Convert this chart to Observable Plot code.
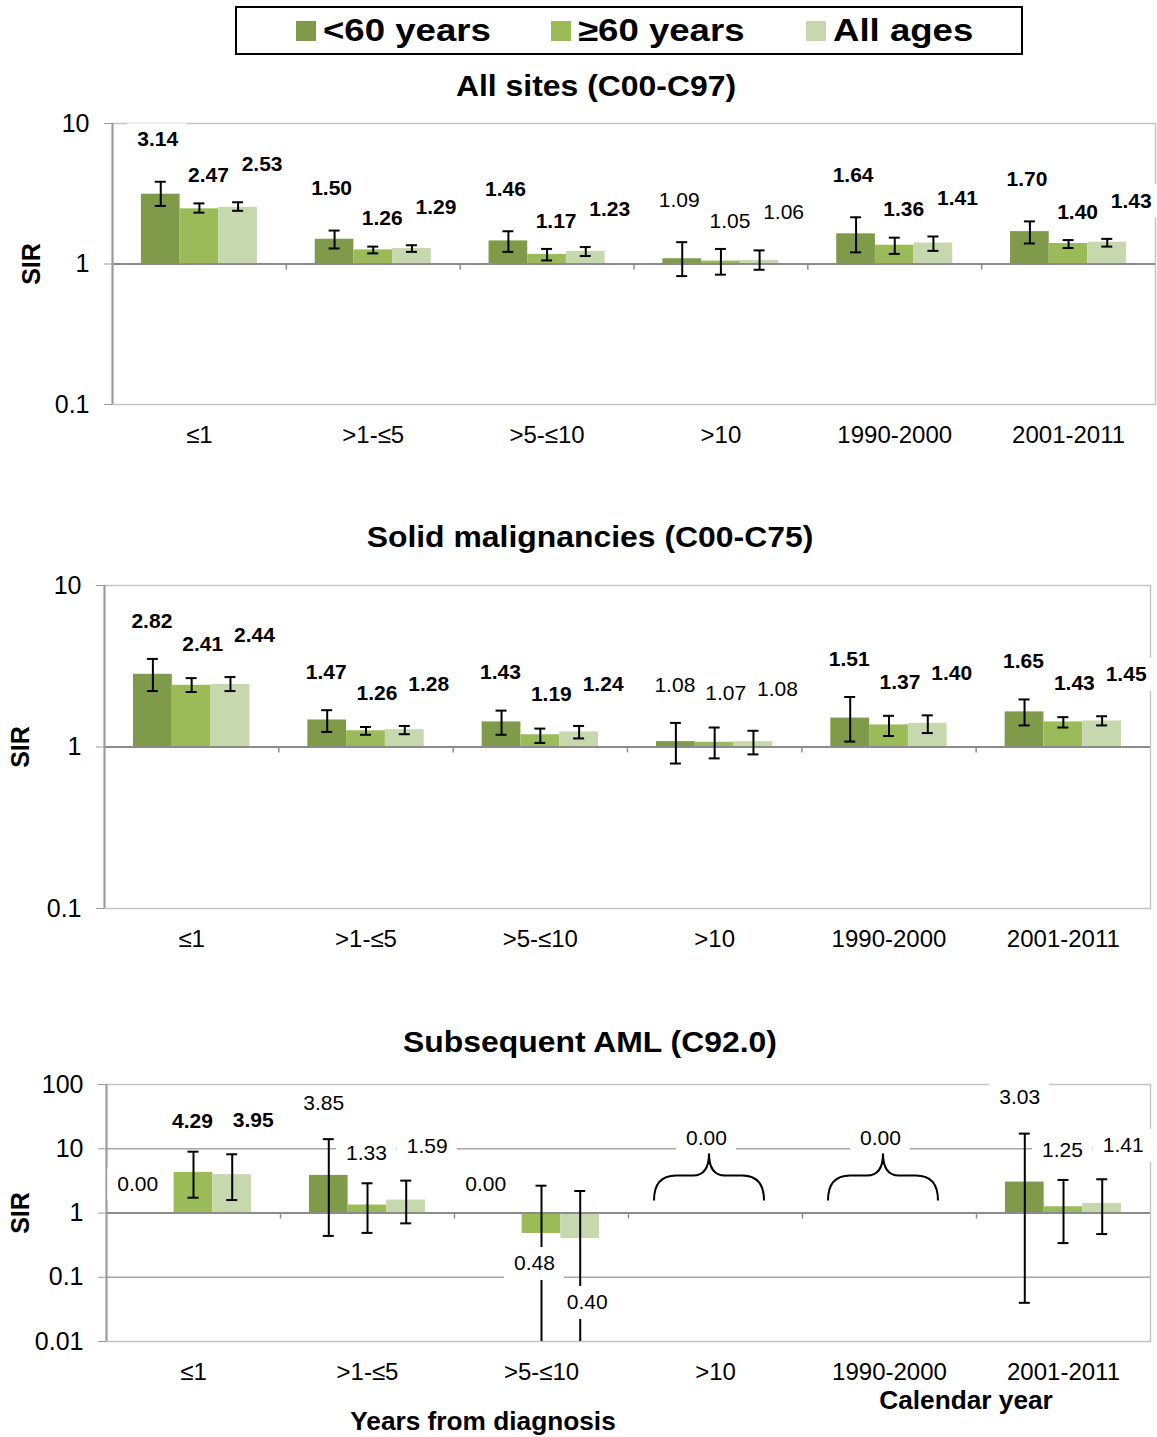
<!DOCTYPE html>
<html>
<head>
<meta charset="utf-8">
<script src="https://cdn.jsdelivr.net/npm/d3@7"></script>
<script src="https://cdn.jsdelivr.net/npm/@observablehq/plot@0.6"></script>
<style>
  html, body { margin: 0; padding: 0; background: #fff; }
  #root { position: relative; width: 1157px; height: 1437px; overflow: hidden; background: #fff;
          font-family: "Liberation Sans", Arial, sans-serif; color: #000; }
  .panel { position: absolute; left: 0; }
  .panel svg { display: block; overflow: visible; }
  .title { position: absolute; font-weight: bold; font-size: 29px; white-space: nowrap; line-height: 1;
           transform: translate(-50%, -50%) scaleX(1.1); z-index: 2; }
  .axt { position: absolute; font-weight: bold; font-size: 25px; white-space: nowrap; line-height: 1;
         transform: translate(-50%, -50%) scaleX(1.05); z-index: 2; }
  #legend { position: absolute; left: 235px; top: 6px; width: 788px; height: 49px; box-sizing: border-box;
            border: 2px solid #000; display: flex; align-items: center; padding-left: 59px; z-index: 2; background: #fff; }
  .item { width: 255px; display: flex; align-items: center; flex: none; }
  .sw { width: 20px; height: 20px; flex: none; margin-right: 7px; }
  .lt { font-weight: bold; font-size: 31px; transform: scaleX(1.18); transform-origin: left center;
        white-space: nowrap; line-height: 1; }
</style>
</head>
<body>
<div id="root">
  <div id="legend"></div>
  <div class="panel" id="p1" style="top:95px"></div>
  <div class="panel" id="p2" style="top:560px"></div>
  <div class="panel" id="p3" style="top:1059px"></div>
  <div class="title" style="left:596px;top:86px">All sites (C00-C97)</div>
  <div class="title" style="left:590px;top:537px">Solid malignancies (C00-C75)</div>
  <div class="title" style="left:590px;top:1042px">Subsequent AML (C92.0)</div>
  <div class="axt" style="left:966px;top:1400px">Calendar year</div>
  <div class="axt" style="left:483px;top:1421px">Years from diagnosis</div>
</div>
<script>
// ---------- categories ----------
const groups = ["≤1", ">1-≤5", ">5-≤10", ">10", "1990-2000", "2001-2011"];
const series = ["<60 years", "≥60 years", "All ages"];
const seriesColors = ["#7f9b49", "#9bbb59", "#c8d8ae"];
const yTicksSites = [0.1, 1, 10];
const yTicksAml = [0.01, 0.1, 1, 10, 100];

// ---------- All sites (C00-C97): SIR with 95% CI ----------
const allLt60   = [3.14, 1.50, 1.46, 1.09, 1.64, 1.70];
const allLt60Lo = [2.59, 1.29, 1.22, 0.82, 1.21, 1.40];
const allLt60Hi = [3.85, 1.73, 1.71, 1.43, 2.15, 2.01];
const allGe60   = [2.47, 1.26, 1.17, 1.05, 1.36, 1.40];
const allGe60Lo = [2.32, 1.19, 1.06, 0.84, 1.18, 1.30];
const allGe60Hi = [2.70, 1.33, 1.28, 1.28, 1.54, 1.48];
const allAll    = [2.53, 1.29, 1.23, 1.06, 1.41, 1.43];
const allAllLo  = [2.39, 1.22, 1.14, 0.91, 1.24, 1.33];
const allAllHi  = [2.75, 1.36, 1.32, 1.25, 1.57, 1.51];

// ---------- Solid malignancies (C00-C75) ----------
const solLt60   = [2.82, 1.47, 1.43, 1.08, 1.51, 1.65];
const solLt60Lo = [2.22, 1.24, 1.19, 0.79, 1.08, 1.36];
const solLt60Hi = [3.51, 1.69, 1.68, 1.41, 2.04, 1.97];
const solGe60   = [2.41, 1.26, 1.19, 1.07, 1.37, 1.43];
const solGe60Lo = [2.19, 1.19, 1.06, 0.85, 1.17, 1.32];
const solGe60Hi = [2.67, 1.33, 1.30, 1.32, 1.56, 1.53];
const solAll    = [2.44, 1.28, 1.24, 1.08, 1.40, 1.45];
const solAllLo  = [2.22, 1.20, 1.13, 0.90, 1.22, 1.36];
const solAllHi  = [2.71, 1.35, 1.35, 1.26, 1.57, 1.55];

// ---------- Subsequent AML (C92.0) ----------
const amlLt60   = [0.00, 3.85, 0.00, 0.00, 0.00, 3.03];
const amlLt60Lo = [null, 0.44, null, null, null, 0.040];
const amlLt60Hi = [null, 14.1, null, null, null, 17.2];
const amlGe60   = [4.29, 1.33, 0.48, 0.00, 0.00, 1.25];
const amlGe60Lo = [1.73, 0.49, 0.005, null, null, 0.34];
const amlGe60Hi = [9.0, 2.9, 2.66, null, null, 3.27];
const amlAll    = [3.95, 1.59, 0.40, 0.00, 0.00, 1.41];
const amlAllLo  = [1.59, 0.69, 0.005, null, null, 0.47];
const amlAllHi  = [8.2, 3.19, 2.2, null, null, 3.35];

// ---------- legend ----------
const legend = document.getElementById("legend");
series.forEach((s, i) => {
  const item = document.createElement("div");
  item.className = "item";
  const sw = document.createElement("div");
  sw.className = "sw";
  sw.style.background = seriesColors[i];
  const lt = document.createElement("div");
  lt.className = "lt";
  lt.textContent = s;
  item.append(sw, lt);
  legend.append(item);
});

function buildRows(vals, los, his) {
  const rows = [];
  groups.forEach((g, j) => series.forEach((s, i) => rows.push({
    group: g, series: s, si: i, v: vals[i][j], lo: los[i][j], hi: his[i][j]
  })));
  return rows;
}

const W = 1157;
const fmt = d3.format(".2f");

function panel(cfg, rows) {
  const height = cfg.marginTop + cfg.innerH + cfg.marginBottom;
  const innerW = W - cfg.marginLeft - cfg.marginRight;
  const B = innerW / groups.length;
  const barW = B * 0.2225;
  const off = i => (i - 1) * barW;
  const [ymin] = cfg.domain;
  const zeroGroups = groups.filter(g => rows.filter(r => r.group === g).every(r => r.v === 0));
  const marks = [];

  marks.push(Plot.frame({stroke: "#c4c4c4", strokeWidth: 1.5}));
  if (cfg.grid.length) marks.push(Plot.ruleY(cfg.grid, {stroke: "#a8a8a8", strokeWidth: 1.5}));

  series.forEach((s, i) => {
    marks.push(Plot.barY(rows.filter(r => r.si === i && r.v > 0), {
      x: "group", y1: () => 1, y2: "v", fill: seriesColors[i],
      insetLeft: B / 2 + off(i) - barW / 2, insetRight: B / 2 - off(i) - barW / 2
    }));
  });

  marks.push(Plot.ruleY([1], {stroke: "#8c8c8c", strokeWidth: 2}));
  marks.push(Plot.ruleX(groups.slice(1), {dx: -B / 2, y1: () => 1, y2: () => 1, insetBottom: -6,
    stroke: "#8c8c8c", strokeWidth: 1.5}));
  marks.push(Plot.ruleX([groups[0]], {dx: -B / 2, stroke: "#9a9a9a", strokeWidth: 2}));

  const capInset = B / 2 - 5.5;
  series.forEach((s, i) => {
    const ci = rows.filter(r => r.si === i && r.v > 0 && r.hi != null);
    marks.push(Plot.ruleX(ci, {x: "group", y1: r => Math.max(r.lo, ymin), y2: "hi", dx: off(i),
      stroke: "black", strokeWidth: 2}));
    marks.push(Plot.tickY(ci, {x: "group", y: "hi", dx: off(i), insetLeft: capInset, insetRight: capInset,
      stroke: "black", strokeWidth: 2}));
    marks.push(Plot.tickY(ci.filter(r => r.lo >= ymin), {x: "group", y: "lo", dx: off(i),
      insetLeft: capInset, insetRight: capInset, stroke: "black", strokeWidth: 2}));
  });

  // labels
  const labels = [];
  for (const r of rows) {
    if (zeroGroups.includes(r.group)) continue;
    const bold = r.v > 0 && (r.lo > 1 || r.hi < 1);
    if (r.v === 0) labels.push({group: r.group, y: 1, dx: off(r.si) + cfg.zeroDx, dy: cfg.zeroDy, text: fmt(0), bold: false});
    else if (r.v >= 1) labels.push({group: r.group, y: r.hi, dx: off(r.si) + cfg.aboveDx[r.si], dy: cfg.aboveDy[r.si], text: fmt(r.v), bold});
    else labels.push({group: r.group, y: r.v, dx: off(r.si) + cfg.belowDx[r.si], dy: cfg.belowDy[r.si], text: fmt(r.v), bold});
  }
  for (const g of zeroGroups) labels.push({group: g, y: 1, dx: cfg.groupZeroDx, dy: cfg.groupZeroDy, text: fmt(0), bold: false});

  const byKey = d3.groups(labels, d => `${d.dx}|${d.dy}|${d.bold}`);
  const boxInset = B / 2 - 30;
  for (const [, list] of byKey) {
    marks.push(Plot.tickY(list, {x: "group", y: "y", dx: list[0].dx, dy: list[0].dy,
      insetLeft: boxInset, insetRight: boxInset, stroke: "white", strokeWidth: 33}));
  }
  for (const [, list] of byKey) {
    marks.push(Plot.text(list, {x: "group", y: "y", text: "text", dx: list[0].dx, dy: list[0].dy,
      fontSize: 21, fontWeight: list[0].bold ? "bold" : "normal", fill: "black"}));
  }

  // braces over groups where all three SIRs are 0.00
  if (zeroGroups.length) {
    marks.push((index, scales) => {
      const g = d3.create("svg:g");
      const y0 = scales.y(1);
      for (const grp of zeroGroups) {
        const cx = scales.x(grp) + B / 2 - 6;
        const x0 = cx - 55, x1 = cx + 55;
        const yE = y0 - 12, yH = y0 - 37, yP = y0 - 59;
        const p = d3.path();
        p.moveTo(x0, yE);
        p.quadraticCurveTo(x0, yH, x0 + 22, yH);
        p.lineTo(cx - 16, yH);
        p.quadraticCurveTo(cx, yH, cx, yP);
        p.quadraticCurveTo(cx, yH, cx + 16, yH);
        p.lineTo(x1 - 22, yH);
        p.quadraticCurveTo(x1, yH, x1, yE);
        g.append("path").attr("d", p.toString()).attr("fill", "none")
          .attr("stroke", "black").attr("stroke-width", 2);
      }
      return g.node();
    });
  }

  marks.push(Plot.axisY(cfg.ticks, {tickFormat: d => String(d), tickSize: 8, tickPadding: 15,
    fontSize: 25, stroke: "#9a9a9a", label: null}));
  marks.push(Plot.axisX({tickSize: 0, tickPadding: 21, fontSize: 24, label: null}));
  marks.push(Plot.text(["SIR"], {frameAnchor: "left", dx: -(cfg.marginLeft - cfg.sirX), rotate: -90,
    fontWeight: "bold", fontSize: 25, textAnchor: "middle", fill: "black"}));

  return Plot.plot({
    width: W, height,
    marginLeft: cfg.marginLeft, marginRight: cfg.marginRight,
    marginTop: cfg.marginTop, marginBottom: cfg.marginBottom,
    x: {type: "band", domain: groups, padding: 0, round: false},
    y: {type: "log", domain: cfg.domain},
    style: {fontFamily: "'Liberation Sans', Arial, sans-serif", color: "black", background: "transparent", overflow: "visible"},
    marks
  });
}

const p1 = panel({
  marginLeft: 112, marginRight: 2, marginTop: 28, innerH: 281, marginBottom: 56,
  domain: [0.1, 10], ticks: yTicksSites, grid: [], sirX: 31,
  aboveDx: [-3, 9, 24], aboveDy: [-42, -28, -38],
  belowDx: [0, 0, 0], belowDy: [30, 30, 30], zeroDx: -17, zeroDy: -29, groupZeroDx: -9, groupZeroDy: -75
}, buildRows([allLt60, allGe60, allAll], [allLt60Lo, allGe60Lo, allAllLo], [allLt60Hi, allGe60Hi, allAllHi]));
document.getElementById("p1").append(p1);

const p2 = panel({
  marginLeft: 104, marginRight: 7, marginTop: 25, innerH: 323, marginBottom: 56,
  domain: [0.1, 10], ticks: yTicksSites, grid: [], sirX: 20,
  aboveDx: [-1, 11, 24], aboveDy: [-38, -34, -42],
  belowDx: [0, 0, 0], belowDy: [30, 30, 30], zeroDx: -17, zeroDy: -29, groupZeroDx: -9, groupZeroDy: -75
}, buildRows([solLt60, solGe60, solAll], [solLt60Lo, solGe60Lo, solAllLo], [solLt60Hi, solGe60Hi, solAllHi]));
document.getElementById("p2").append(p2);

const p3 = panel({
  marginLeft: 106, marginRight: 7, marginTop: 25, innerH: 257, marginBottom: 45,
  domain: [0.01, 100], ticks: yTicksAml, grid: [0.1, 10], sirX: 20,
  aboveDx: [-5, -1, 21], aboveDy: [-36, -30, -34],
  belowDx: [0, -7, 7], belowDy: [30, 30, 64], zeroDx: -17, zeroDy: -29, groupZeroDx: -9, groupZeroDy: -75
}, buildRows([amlLt60, amlGe60, amlAll], [amlLt60Lo, amlGe60Lo, amlAllLo], [amlLt60Hi, amlGe60Hi, amlAllHi]));
document.getElementById("p3").append(p3);
</script>
</body>
</html>
